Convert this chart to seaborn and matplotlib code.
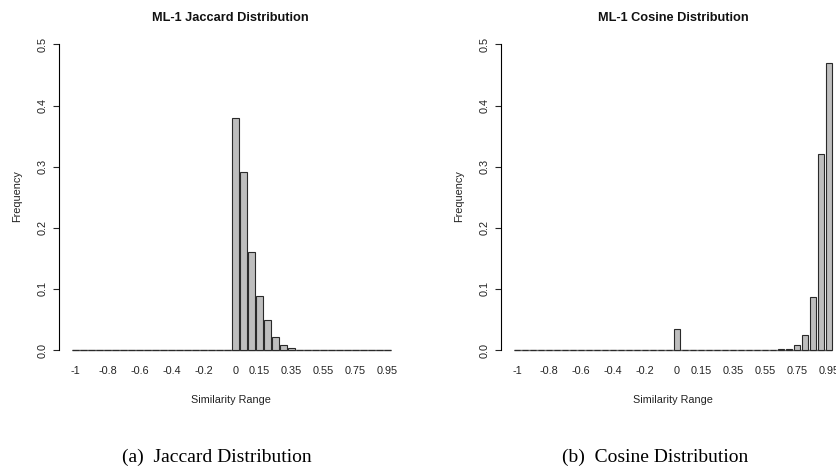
import numpy as np
import pandas as pd
import matplotlib
matplotlib.use("Agg")
import matplotlib.pyplot as plt
import seaborn as sns

# similarity bins (width 0.05) from -1 to 0.95
bins = [f"{v:g}" for v in np.round(np.arange(-1, 1, 0.05), 2)]

jaccard_freq = [0, 0, 0, 0, 0, 0, 0, 0, 0, 0,
                0, 0, 0, 0, 0, 0, 0, 0, 0, 0,
                0.380, 0.292, 0.160, 0.089, 0.049, 0.022, 0.008, 0.003, 0, 0,
                0, 0, 0, 0, 0, 0, 0, 0, 0, 0]
cosine_freq = [0, 0, 0, 0, 0, 0, 0, 0, 0, 0,
               0, 0, 0, 0, 0, 0, 0, 0, 0, 0,
               0.034, 0, 0, 0, 0, 0, 0, 0, 0, 0,
               0, 0, 0, 0.001, 0.002, 0.009, 0.025, 0.086, 0.321, 0.469]

shown_labels = ["-1", "-0.8", "-0.6", "-0.4", "-0.2", "0", "0.15", "0.35", "0.55", "0.75", "0.95"]
y_ticks = [0.0, 0.1, 0.2, 0.3, 0.4, 0.5]

titles = ["ML-1 Jaccard Distribution", "ML-1 Cosine Distribution"]
captions = ["(a)  Jaccard Distribution", "(b)  Cosine Distribution"]

sns.set_style("white")
plt.rcParams['font.family'] = ['Liberation Sans', 'DejaVu Sans']

W, H = 837, 469
fig = plt.figure(figsize=(W / 100, H / 100), dpi=100)

# axes layout in pixels: (y-axis x, right edge, first bar centre)
panels = [(59, 395, 75.5), (501.5, 837, 517)]
px_per_bar = 8
base_px, unit_px = 350, 611
ylo, yhi = -0.015, 0.52
bar_w = 1 / 1.2


def draw(ax, freq, title, caption, yaxis_px, right_px, bar0_px):
    df = pd.DataFrame({'bin': bins, 'freq': freq})
    # baseline under the empty bins
    ax.hlines(0, -bar_w / 2, len(bins) - 1 + bar_w / 2, color='#666666', lw=1, zorder=0)
    sns.barplot(data=df, x='bin', y='freq', order=bins, color='#BEBEBE', saturation=1,
                edgecolor='#2a2a2a', linewidth=0.8, width=bar_w, ax=ax)
    a = -(bar0_px - yaxis_px) / px_per_bar
    ax.set_xlim(a, a + (right_px - yaxis_px) / px_per_bar)
    ax.set_ylim(ylo, yhi)
    for side in ['top', 'right', 'bottom']:
        ax.spines[side].set_visible(False)
    ax.spines['left'].set_bounds(0, 0.5)
    ax.spines['left'].set_color('black')
    ax.spines['left'].set_linewidth(0.8)
    ax.set_xticks([bins.index(l) for l in shown_labels])
    ax.set_xticklabels(shown_labels)
    ax.set_yticks(y_ticks)
    ax.set_yticklabels([f"{t:.1f}" for t in y_ticks], rotation=90, va='center')
    ax.tick_params(axis='x', length=0, pad=5, labelsize=7.8, labelcolor='#222222')
    ax.tick_params(axis='y', length=4.3, width=0.8, direction='out', pad=4,
                   labelsize=7.8, labelcolor='#222222', left=True)
    ax.set_xlabel('')
    ax.set_ylabel('')
    cx = yaxis_px + 171.5
    fig.text(cx / W, 1 - 18 / H, title, ha='center', va='center',
             fontsize=9.2, fontweight='bold', color='#111111')
    fig.text(cx / W, 1 - 400 / H, 'Similarity Range', ha='center', va='center',
             fontsize=7.8, color='#222222')
    fig.text((yaxis_px - 42) / W, 1 - 196 / H, 'Frequency', ha='center', va='center',
             rotation=90, fontsize=7.8, color='#222222')
    fig.text((cx - 14 if yaxis_px < 100 else cx - 18) / W, 1 - 457 / H, caption,
             ha='center', va='center', fontsize=14, family=['Liberation Serif', 'DejaVu Serif'],
             color='black')


for (yaxis_px, right_px, bar0_px), freq, title, caption in zip(
        panels, [jaccard_freq, cosine_freq], titles, captions):
    bottom = H - (base_px - ylo * unit_px)
    top = H - (base_px - yhi * unit_px)
    ax = fig.add_axes([yaxis_px / W, bottom / H, (right_px - yaxis_px) / W, (top - bottom) / H])
    ax.patch.set_alpha(0)
    draw(ax, freq, title, caption, yaxis_px, right_px, bar0_px)

fig.savefig('out.png', dpi=100)
